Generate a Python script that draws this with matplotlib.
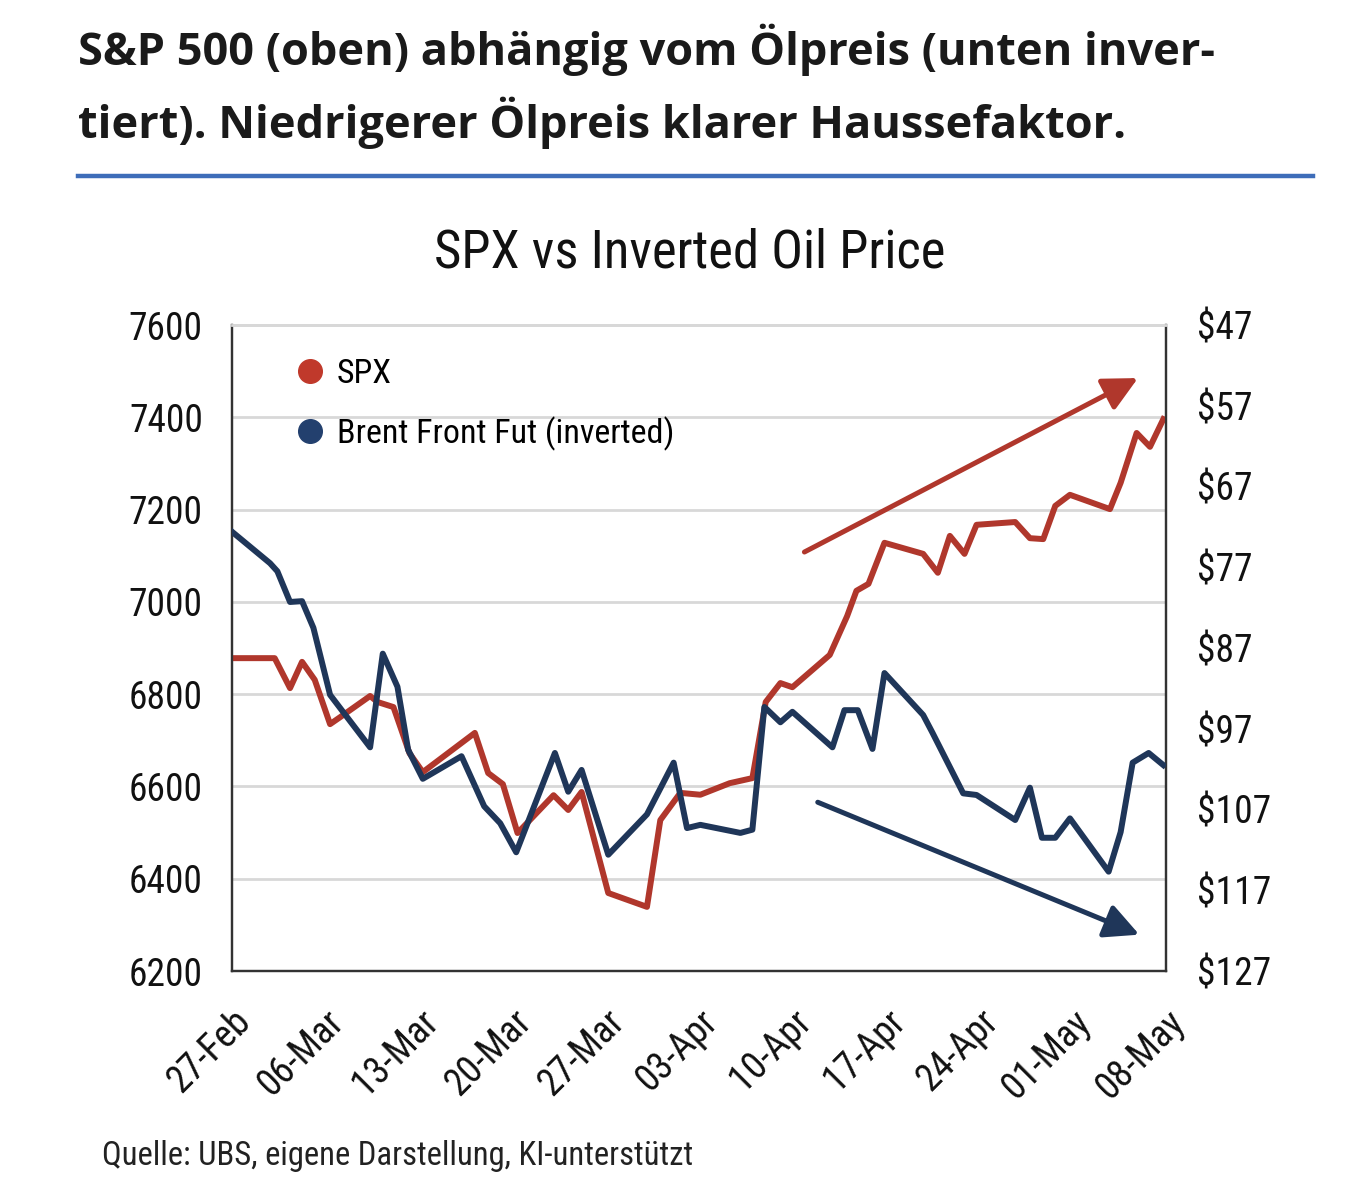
import matplotlib
matplotlib.use("Agg")
import matplotlib.pyplot as plt
from matplotlib.lines import Line2D

# days after 27-Feb
spx_days = [0.0, 3.2, 4.35, 5.25, 6.2, 7.35, 8.1, 10.35, 10.9, 12.1,
            13.3, 14.3, 18.2, 19.2, 20.3, 21.4, 24.1, 25.2, 26.2, 28.2,
            31.1, 32.1, 33.6, 35.1, 37.3, 39.0, 40.0, 41.1, 42.0, 44.8,
            46.1, 46.8, 47.7, 48.9, 51.8, 52.9, 53.8, 54.9, 55.8, 58.7,
            59.8, 60.8, 61.7, 62.8, 65.8, 66.6, 67.8, 68.8, 69.8]
spx_vals = [6878, 6878, 6813, 6870, 6831, 6735, 6750, 6796, 6783, 6772,
            6672, 6631, 6716, 6629, 6605, 6499, 6581, 6549, 6588, 6369,
            6339, 6527, 6586, 6582, 6607, 6618, 6783, 6824, 6815, 6885,
            6969, 7024, 7039, 7128, 7104, 7063, 7143, 7104, 7167, 7173,
            7138, 7136, 7208, 7232, 7201, 7258, 7366, 7336, 7396]

brent_days = [0.0, 2.85, 3.4, 4.35, 5.25, 6.1, 7.35, 10.35, 11.3, 12.4,
              13.2, 14.3, 17.2, 18.9, 20.1, 21.3, 24.2, 25.2, 26.2, 28.2,
              31.1, 33.1, 34.1, 35.1, 38.1, 39.0, 39.9, 41.1, 42.0, 45.0,
              45.9, 46.9, 48.0, 48.9, 51.8, 52.5, 54.8, 55.8, 58.7, 59.8,
              60.7, 61.7, 62.8, 65.7, 66.6, 67.5, 68.7, 69.8]
brent_vals = [72.6, 76.5, 77.5, 81.3, 81.2, 84.5, 92.8, 99.3, 87.7, 91.8,
              99.6, 103.2, 100.4, 106.6, 108.7, 112.3, 100.0, 104.8, 102.1, 112.6,
              107.6, 101.2, 109.3, 108.9, 109.9, 109.5, 94.3, 96.2, 94.9, 99.3,
              94.7, 94.7, 99.5, 90.1, 95.3, 97.5, 105.0, 105.2, 108.3, 104.3,
              110.5, 110.5, 108.1, 114.7, 109.8, 101.2, 100.0, 101.5]

date_ticks = [0, 7, 14, 21, 28, 35, 42, 49, 56, 63, 70]
date_labels = ["27-Feb", "06-Mar", "13-Mar", "20-Mar", "27-Mar", "03-Apr",
               "10-Apr", "17-Apr", "24-Apr", "01-May", "08-May"]
spx_ticks = [6200, 6400, 6600, 6800, 7000, 7200, 7400, 7600]
oil_ticks = [47, 57, 67, 77, 87, 97, 107, 117, 127]

# trend arrows (start, end) in data units
spx_arrow = ((42.9, 7108), (67.9, 7485))
oil_arrow = ((43.9, 106.1), (68.0, 122.5))

RED = "#B0372C"
NAVY = "#1F3659"
NARROW = ["Liberation Sans Narrow", "Roboto Condensed", "DejaVu Sans"]
HEAD = ["Open Sans", "DejaVu Sans"]

W, H = 1352, 1198
fig = plt.figure(figsize=(W / 100, H / 100), dpi=100)
fig.patch.set_facecolor("white")

# header
fig.text(78 / W, 1 - 65 / H, "S&P 500 (oben) abhängig vom Ölpreis (unten inver-",
         family=HEAD, weight="bold", fontsize=32.5, color="#1a1a1a", va="baseline")
fig.text(78 / W, 1 - 138 / H, "tiert). Niedrigerer Ölpreis klarer Haussefaktor.",
         family=HEAD, weight="bold", fontsize=32.5, color="#1a1a1a", va="baseline")
fig.add_artist(Line2D([78 / W, 1313 / W], [1 - 176 / H, 1 - 176 / H],
                      color="#3E6DB9", lw=3.2, transform=fig.transFigure))

fig.text(690 / W, 1 - 268 / H, "SPX vs Inverted Oil Price", family=NARROW,
         fontsize=38, color="#111111", ha="center", va="baseline")

fig.text(102 / W, 1 - 1165 / H, "Quelle: UBS, eigene Darstellung, KI-unterstützt",
         family=NARROW, fontsize=23.5, color="#222222", va="baseline")

ax = fig.add_axes([232 / W, 1 - 971 / H, (1166 - 232) / W, (971 - 325) / H])
ax2 = ax.twinx()

ax.set_xlim(0, 70)
ax.set_ylim(6200, 7600)
ax2.set_ylim(127, 47)

ax.set_yticks(spx_ticks)
ax.set_yticklabels([str(t) for t in spx_ticks])
ax2.set_yticks(oil_ticks)
ax2.set_yticklabels([f"${t}" for t in oil_ticks])
ax.set_xticks(date_ticks)
ax.set_xticklabels(date_labels, rotation=45, ha="right", rotation_mode="anchor")

for lab in ax.get_yticklabels() + ax2.get_yticklabels() + ax.get_xticklabels():
    lab.set_family(NARROW)
    lab.set_fontsize(27)
    lab.set_color("#111111")

ax.tick_params(axis="y", length=0, pad=21)
ax2.tick_params(axis="y", length=0, pad=22)
ax.tick_params(axis="x", length=0, pad=23)

ax.grid(axis="y", color="#d8d8d8", lw=2)
ax.set_axisbelow(True)
for a in (ax, ax2):
    for side in ("left", "bottom", "right"):
        a.spines[side].set_color("#333333")
        a.spines[side].set_linewidth(1.6)
    a.spines["top"].set_color("#d8d8d8")
    a.spines["top"].set_linewidth(2)

ax.plot(spx_days, spx_vals, color=RED, lw=4.3, solid_joinstyle="round", zorder=3)
ax2.plot(brent_days, brent_vals, color=NAVY, lw=4.3, solid_joinstyle="round", zorder=3)

ax.annotate("", xy=spx_arrow[1], xytext=spx_arrow[0],
            arrowprops=dict(arrowstyle="-|>,head_length=1.1,head_width=0.55",
                            color=RED, lw=3.6, mutation_scale=19,
                            shrinkA=0, shrinkB=0))
ax2.annotate("", xy=oil_arrow[1], xytext=oil_arrow[0],
             arrowprops=dict(arrowstyle="-|>,head_length=1.1,head_width=0.55",
                             color=NAVY, lw=3.6, mutation_scale=19,
                             shrinkA=0, shrinkB=0))

handles = [Line2D([], [], ls="", marker="o", ms=17, color="#C0392B"),
           Line2D([], [], ls="", marker="o", ms=17, color="#23406E")]
ax2.legend(handles, ["SPX", "Brent Front Fut (inverted)"], loc="upper left",
           bbox_to_anchor=(0.07, 0.949), frameon=False, borderaxespad=0,
           borderpad=0, handlelength=0.75, handletextpad=0.4, labelspacing=0.78,
           prop={"family": NARROW, "size": 24.5})

fig.savefig("out.png", dpi=100, facecolor="white")
